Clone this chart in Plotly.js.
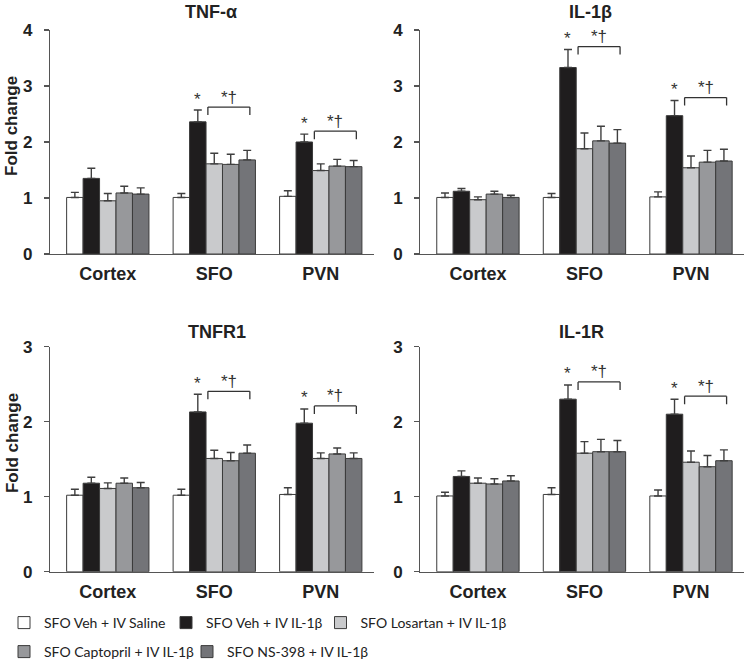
<!DOCTYPE html>
<html>
<head>
<meta charset="utf-8">
<script src="https://cdn.plot.ly/plotly-3.0.1.min.js"></script>
<style>html,body{margin:0;padding:0;background:#fff;}#chart{width:745px;height:669px;}</style>
</head>
<body>
<div id="chart"></div>
<script>
// ---------- data ----------
const categories = ['Cortex', 'SFO', 'PVN'];
const seriesNames = [
  'SFO Veh + IV Saline',
  'SFO Veh + IV IL-1β',
  'SFO Losartan + IV IL-1β',
  'SFO Captopril + IV IL-1β',
  'SFO NS-398 + IV IL-1β'
];
const panelTitles = ['TNF-α', 'IL-1β', 'TNFR1', 'IL-1R'];

// mean fold change [series][category]
const tnfaMean = [[1.01, 1.01, 1.03], [1.35, 2.36, 2.00], [0.95, 1.61, 1.49], [1.09, 1.60, 1.57], [1.07, 1.68, 1.56]];
const tnfaErr  = [[0.09, 0.07, 0.10], [0.18, 0.21, 0.14], [0.13, 0.19, 0.12], [0.12, 0.18, 0.12], [0.11, 0.17, 0.11]];
const il1bMean = [[1.01, 1.01, 1.02], [1.12, 3.33, 2.47], [0.97, 1.88, 1.54], [1.07, 2.02, 1.64], [1.01, 1.98, 1.66]];
const il1bErr  = [[0.08, 0.07, 0.09], [0.05, 0.32, 0.27], [0.05, 0.28, 0.21], [0.05, 0.26, 0.21], [0.04, 0.24, 0.21]];
const tnfr1Mean = [[1.02, 1.02, 1.03], [1.18, 2.13, 1.98], [1.11, 1.51, 1.51], [1.18, 1.48, 1.57], [1.12, 1.58, 1.51]];
const tnfr1Err  = [[0.08, 0.08, 0.09], [0.08, 0.235, 0.19], [0.075, 0.11, 0.075], [0.07, 0.11, 0.08], [0.07, 0.11, 0.075]];
const il1rMean = [[1.01, 1.03, 1.01], [1.27, 2.30, 2.10], [1.18, 1.58, 1.46], [1.17, 1.60, 1.40], [1.21, 1.60, 1.48]];
const il1rErr  = [[0.05, 0.09, 0.08], [0.075, 0.19, 0.20], [0.07, 0.155, 0.15], [0.07, 0.165, 0.15], [0.07, 0.15, 0.145]];
const yMax = [4, 4, 3, 3];
// categories with significance marks (* vs saline, *† bracket over treated groups)
const sigCategories = ['SFO', 'PVN'];

// ---------- styling ----------
const colors = ['#ffffff', '#1f1d1e', '#c9cacc', '#97989b', '#737478'];
const lineColor = '#3b3b3b';
const boldFont = 'Liberation Sans, Arial, Helvetica, sans-serif';
const legendFont = 'Lato, Roboto, Liberation Sans, sans-serif';
const bargap = 0.227;
const barW = (1 - bargap) / seriesNames.length;

const panels = [
  {mean: tnfaMean, err: tnfaErr, xa: 'x', ya: 'y', xd: [0.0675, 0.502], yd: [0.6203, 0.9552], tx: 0.283, ty: 0.982},
  {mean: il1bMean, err: il1bErr, xa: 'x2', ya: 'y2', xd: [0.5643, 0.999], yd: [0.6203, 0.9552], tx: 0.793, ty: 0.982},
  {mean: tnfr1Mean, err: tnfr1Err, xa: 'x3', ya: 'y3', xd: [0.0675, 0.502], yd: [0.1454, 0.4818], tx: 0.291, ty: 0.503},
  {mean: il1rMean, err: il1rErr, xa: 'x4', ya: 'y4', xd: [0.5643, 0.999], yd: [0.1454, 0.4818], tx: 0.781, ty: 0.503}
];

const legendNames = ['legend', 'legend2', 'legend3', 'legend4', 'legend5'];
const legendPos = [[4, 623], [166, 623], [320.5, 623], [4, 652], [187, 652]];

const traces = [];
panels.forEach((p, pi) => {
  seriesNames.forEach((name, si) => {
    traces.push({
      type: 'bar',
      name: name,
      x: categories,
      y: p.mean[si],
      xaxis: p.xa,
      yaxis: p.ya,
      legend: legendNames[si],
      showlegend: pi === 0,
      legendgroup: 's' + si,
      marker: {color: colors[si], line: {color: lineColor, width: 1}},
      error_y: {
        type: 'data', symmetric: false,
        array: p.err[si], arrayminus: p.err[si].map(() => 0),
        color: '#3f3f3f', thickness: 1.4, width: 4
      },
      hoverinfo: 'x+y+name'
    });
  });
});

const layout = {
  width: 745, height: 669,
  margin: {l: 0, r: 0, t: 0, b: 0},
  paper_bgcolor: '#ffffff', plot_bgcolor: 'rgba(0,0,0,0)',
  barmode: 'group', bargap: bargap, bargroupgap: 0,
  font: {family: boldFont, color: '#222'},
  annotations: [],
  shapes: []
};

panels.forEach((p, pi) => {
  const n = pi === 0 ? '' : String(pi + 1);
  layout['xaxis' + n] = {
    domain: p.xd, anchor: p.ya, type: 'category',
    range: [-0.54, 2.50], showline: true, linecolor: '#555', linewidth: 1.3,
    ticks: '', showgrid: false, zeroline: false, fixedrange: true,
    ticklabelstandoff: 3,
    tickfont: {family: boldFont, size: 18, color: '#222', weight: 'bold'}
  };
  layout['yaxis' + n] = {
    domain: p.yd, anchor: p.xa,
    range: [0, yMax[pi]], dtick: 1, showline: true, linecolor: '#555', linewidth: 1.3,
    ticks: 'outside', ticklen: 5, tickwidth: 1.3, tickcolor: '#555',
    ticklabelstandoff: 8,
    showgrid: false, zeroline: false, fixedrange: true,
    tickfont: {family: boldFont, size: 17, color: '#222', weight: 'bold'}
  };
  layout.annotations.push({
    xref: 'paper', yref: 'paper', x: p.tx, y: p.ty, xanchor: 'center', yanchor: 'middle',
    text: '<b>' + panelTitles[pi] + '</b>', showarrow: false,
    font: {family: boldFont, size: 18, color: '#222'}
  });
  // significance marks, positioned from the data
  sigCategories.forEach(cat => {
    const ci = categories.indexOf(cat);
    const top = p.mean[1][ci] + p.err[1][ci];
    const xStar = ci + (1 - 2) * barW;
    const xa0 = ci - 0.06;
    const xa1 = ci + 2 * barW + 0.025;
    layout.annotations.push({
      xref: p.xa, yref: p.ya, x: xStar, y: top, yshift: 11, xanchor: 'center', yanchor: 'middle',
      text: '*', showarrow: false, font: {family: boldFont, size: 17, color: '#333'}
    });
    layout.annotations.push({
      xref: p.xa, yref: p.ya, x: (xa0 + xa1) / 2, y: top, yshift: 13, xanchor: 'center', yanchor: 'middle',
      text: '*\u2020', showarrow: false,
      font: {family: boldFont, size: 17, color: '#333'}
    });
    const base = {type: 'line', xref: p.xa, yref: p.ya, ysizemode: 'pixel', yanchor: top,
                  line: {color: '#333', width: 1.3}};
    layout.shapes.push(Object.assign({}, base, {x0: xa0, x1: xa1, y0: 3, y1: 3}));
    layout.shapes.push(Object.assign({}, base, {x0: xa0, x1: xa0, y0: 3, y1: -5}));
    layout.shapes.push(Object.assign({}, base, {x0: xa1, x1: xa1, y0: 3, y1: -5}));
  });
});

// y-axis titles
[0.8117, 0.3378].forEach(yy => {
  layout.annotations.push({
    xref: 'paper', yref: 'paper', x: 12 / 745, y: yy, xanchor: 'center', yanchor: 'middle',
    text: '<b>Fold change</b>', textangle: -90, showarrow: false,
    font: {family: boldFont, size: 17, color: '#222'}
  });
});

// legends
legendNames.forEach((ln, i) => {
  layout[ln] = {
    x: legendPos[i][0] / 745, y: 1 - legendPos[i][1] / 669,
    xanchor: 'left', yanchor: 'middle', orientation: 'h',
    bgcolor: 'rgba(0,0,0,0)', borderwidth: 0,
    font: {family: legendFont, size: 14, color: '#222'},
    itemclick: false, itemdoubleclick: false
  };
});

Plotly.newPlot('chart', traces, layout, {displayModeBar: false, staticPlot: true});
</script>
</body>
</html>
